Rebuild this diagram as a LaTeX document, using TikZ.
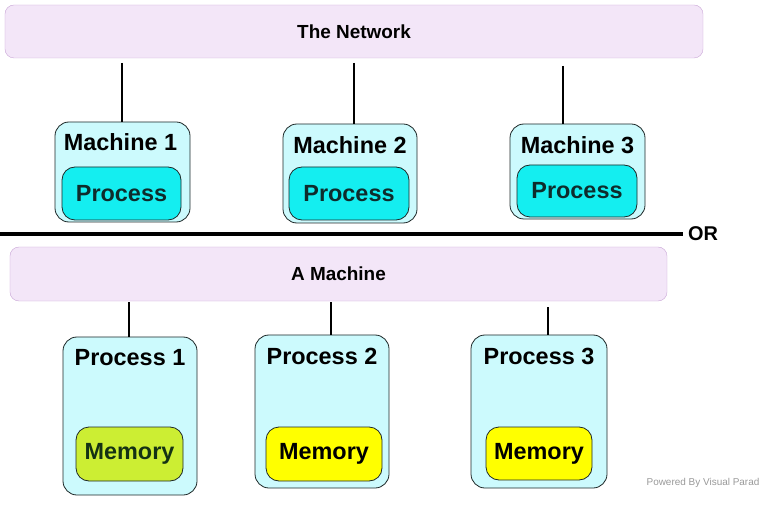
\documentclass[tikz,border=0pt]{standalone}
\usepackage{fontspec}
\setmainfont{Liberation Sans}
\usetikzlibrary{positioning}

\definecolor{netfill}{HTML}{F3E6F8}
\definecolor{netdraw}{HTML}{C9A6D6}
\definecolor{boxfill}{HTML}{CCFAFD}
\definecolor{boxdraw}{HTML}{1E2828}
\definecolor{procfill}{HTML}{14EEF0}
\definecolor{memgreen}{HTML}{CCEE33}
\definecolor{memyellow}{HTML}{FFFF00}
\definecolor{darktxt}{HTML}{0E2C2C}
\definecolor{memtxt}{HTML}{143214}

\tikzset{
  bar/.style = {draw=netdraw, fill=netfill, rounded corners=9bp, inner sep=0,
    font=\bfseries\fontsize{19}{19}\selectfont},
  box/.style = {draw=boxdraw, line width=0.8bp, fill=boxfill, rounded corners=14bp, inner sep=0},
  inner/.style = {draw=boxdraw, line width=0.8bp, rounded corners=13bp, inner sep=0, text=darktxt,
    font=\bfseries\fontsize{23.5}{23.5}\selectfont},
  title/.style = {font=\bfseries\fontsize{23.5}{23.5}\selectfont},
  link/.style = {line width=2bp}
}

\begin{document}
\begin{tikzpicture}[x=1bp, y=-1bp]
\useasboundingbox (0,0) rectangle (763,509);

% the network
\node[bar, minimum width=698bp, minimum height=53bp] (net) at (354,31.5) {The Network};
\node[box, minimum width=135bp, minimum height=100bp] (m1) at (122.5,172) {};
\node[box, minimum width=134bp, minimum height=99bp] (m2) at (350,173.5) {};
\node[box, minimum width=135bp, minimum height=95bp] (m3) at (577.5,171.5) {};
\node[title] (mt1) at ([xshift=-2bp,yshift=-21bp]m1.north) {Machine 1};
\node[title] (mt2) at ([yshift=-22bp]m2.north) {Machine 2};
\node[title] (mt3) at ([yshift=-22bp]m3.north) {Machine 3};
\node[inner, fill=procfill, minimum width=119bp, minimum height=53bp] (p1) at (121.5,193.5) {Process\hspace{8bp}};
\node[inner, fill=procfill, minimum width=120bp, minimum height=53bp] (p2) at (349,193.5) {Process\hspace{8bp}};
\node[inner, fill=procfill, minimum width=120bp, minimum height=52bp] (p3) at (577,191) {Process\hspace{8bp}};
\coordinate (t1) at (122,63);
\coordinate (t2) at (354,63);
\coordinate (t3) at (563,66);
\draw[link] (t1) -- (t1 |- m1.north);
\draw[link] (t2) -- (t2 |- m2.north);
\draw[link] (t3) -- (t3 |- m3.north);

% OR
\coordinate (sepL) at (0,234);
\coordinate (sepR) at (683,234);
\draw[line width=4bp] (sepL) -- (sepR);
\node[font=\bfseries\fontsize{20}{20}\selectfont, right=5bp of sepR, inner sep=0] (or) {OR};

% a machine
\node[bar, minimum width=657bp, minimum height=54bp] (mach) at (338.5,274) {A Machine};
\node[box, minimum width=134bp, minimum height=158bp] (q1) at (130,416) {};
\node[box, minimum width=134bp, minimum height=153bp] (q2) at (322,411.5) {};
\node[box, minimum width=136bp, minimum height=153bp] (q3) at (539,411.5) {};
\node[title] (qt1) at ([yshift=-21bp]q1.north) {Process 1};
\node[title] (qt2) at ([yshift=-22bp]q2.north) {Process 2};
\node[title] (qt3) at ([yshift=-22bp]q3.north) {Process 3};
\node[inner, fill=memgreen, text=memtxt, minimum width=107bp, minimum height=54bp] (r1) at (129.5,454) {Memory};
\node[inner, fill=memyellow, text=black, minimum width=116bp, minimum height=54bp] (r2) at (324,454) {Memory};
\node[inner, fill=memyellow, text=black, minimum width=106bp, minimum height=53bp] (r3) at (539,453.5) {Memory};
\coordinate (b1) at (129,302);
\coordinate (b2) at (331,302);
\coordinate (b3) at (548,307);
\draw[link] (b1) -- (b1 |- q1.north);
\draw[link] (b2) -- (b2 |- q2.north);
\draw[link] (b3) -- (b3 |- q3.north);

\node[text=black!40, font=\fontsize{10}{10}\selectfont] (pwr) at (703,483) {Powered By Visual Parad};
\end{tikzpicture}
\end{document}
